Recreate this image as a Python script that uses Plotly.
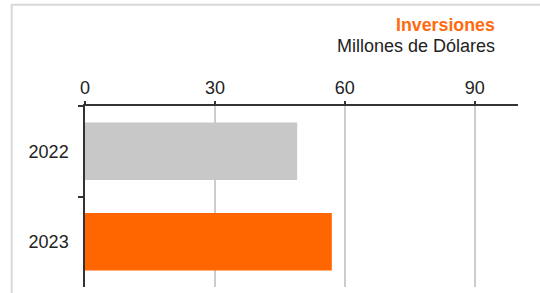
import plotly.graph_objects as go

categories = ["2022", "2023"]
values = [49, 57]
bar_colors = ["#C8C8C8", "#FF6600"]
x_ticks = [0, 30, 60, 90]
title_text = "Inversiones"
subtitle_text = "Millones de Dólares"

FONT = "Liberation Sans, Arial, sans-serif"

fig = go.Figure()
fig.add_trace(go.Bar(
    y=categories, x=values, orientation="h",
    marker=dict(color=bar_colors, line=dict(width=0)),
    hoverinfo="x+y",
))

L, R, T, B = 85.3, 22, 105.7, 5.7
W, H = 540, 293
pw = W - L - R
ph = H - T - B

def px_x(p):
    return (p - L) / pw

def px_y(p):
    return (H - B - p) / ph

fig.update_layout(
    width=W, height=H,
    margin=dict(l=L, r=R, t=T, b=B, pad=0, autoexpand=False),
    paper_bgcolor="white", plot_bgcolor="white",
    showlegend=False,
    bargap=0.365,
    font=dict(family=FONT, size=18, color="#222222"),
    xaxis=dict(
        side="top", range=[0, 100], tickvals=x_ticks,
        showline=True, linecolor="#333333", linewidth=1.5,
        ticks="outside", ticklen=3, tickcolor="#333333", tickwidth=1.5,
        showgrid=True, gridcolor="#CCCCCC", gridwidth=1.5,
        zeroline=False, automargin=False,
        tickfont=dict(family=FONT, size=18, color="#222222"),
        fixedrange=True,
    ),
    yaxis=dict(
        categoryorder="array", categoryarray=categories,
        autorange="reversed",
        showline=True, linecolor="#333333", linewidth=1.5,
        ticks="outside", ticklen=5, tickcolor="#333333", tickwidth=1.5,
        tickson="boundaries",
        showgrid=False, zeroline=False, automargin=False,
        ticklabelstandoff=11,
        tickfont=dict(family=FONT, size=18, color="#222222"),
        fixedrange=True,
    ),
    annotations=[
        dict(text="<b>" + title_text + "</b>", xref="paper", yref="paper",
             x=px_x(497), y=px_y(24), xanchor="right", yanchor="middle",
             showarrow=False, font=dict(family=FONT, size=17.8, color="#FF6A10")),
        dict(text=subtitle_text, xref="paper", yref="paper",
             x=px_x(497), y=px_y(45), xanchor="right", yanchor="middle",
             showarrow=False, font=dict(family=FONT, size=18, color="#222222")),
    ],
    shapes=[
        dict(type="rect", xref="paper", yref="paper", layer="below",
             x0=px_x(12), y0=px_y(400), x1=px_x(600), y1=px_y(4),
             line=dict(color="#D9D9D9", width=2), fillcolor="rgba(0,0,0,0)"),
    ],
)

fig.write_html(
    "out.html",
    config={"displayModeBar": False},
    post_script="document.body.style.margin='0';document.body.style.overflow='hidden';",
)
